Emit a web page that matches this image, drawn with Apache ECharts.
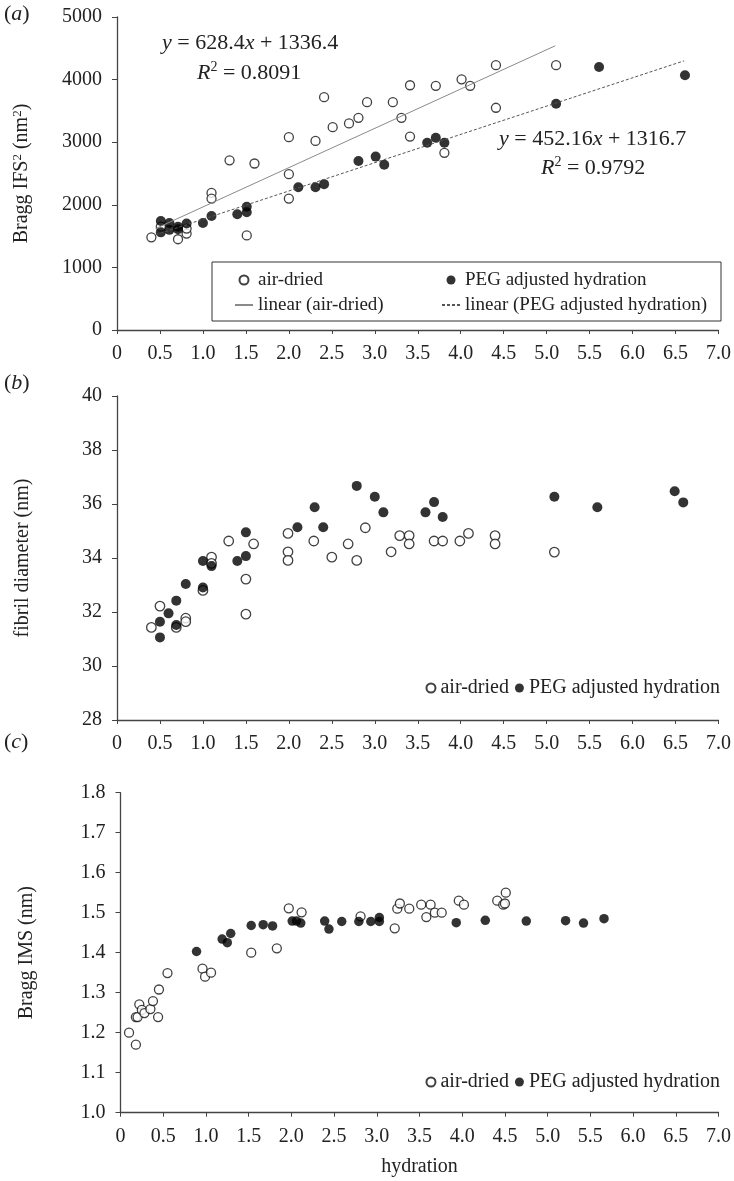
<!DOCTYPE html>
<html>
<head>
<meta charset="utf-8">
<title>hydration</title>
<script src="https://cdn.jsdelivr.net/npm/echarts@6/dist/echarts.min.js"></script>
<style>
  html, body { margin: 0; padding: 0; background: #fff; }
  #chart { width: 734px; height: 1181px; }
</style>
</head>
<body>
<div id="chart"></div>
<script>
// (a) Bragg IFS^2 vs hydration
const airA = [
  [0.40, 1480], [0.51, 1650], [0.71, 1450], [0.81, 1540], [0.81, 1620], [1.10, 2190], [1.10, 2100],
  [1.31, 2710], [1.51, 1510], [1.60, 2660], [2.0, 3080], [2.0, 2490], [2.0, 2100], [2.31, 3020],
  [2.41, 3720], [2.51, 3240], [2.70, 3300], [2.81, 3390], [2.91, 3640], [3.21, 3640], [3.31, 3390],
  [3.41, 3910], [3.41, 3090], [3.71, 3900], [3.81, 2830], [4.01, 4005], [4.11, 3900], [4.41, 4230],
  [4.41, 3550], [5.11, 4230]
];
const pegA = [
  [0.51, 1740], [0.51, 1560], [0.61, 1710], [0.61, 1600], [0.71, 1650], [0.71, 1610], [0.81, 1700],
  [1.0, 1710], [1.10, 1820], [1.40, 1850], [1.51, 1970], [1.51, 1880], [2.11, 2280], [2.31, 2280],
  [2.41, 2330], [2.81, 2700], [3.01, 2770], [3.11, 2640], [3.61, 2990], [3.71, 3070], [3.81, 2990],
  [5.11, 3615], [5.61, 4200], [6.61, 4070]
];
// trend line end points as drawn
const trendAir = [[0.45, 1620], [5.1, 4540]];
const trendPeg = [[0.45, 1520], [6.6, 4300]];

// (b) fibril diameter
const airB = [
  [0.40, 31.43], [0.50, 32.22], [0.69, 31.43], [0.80, 31.77], [0.80, 31.64], [1.0, 32.8], [1.10, 34.03],
  [1.10, 33.8], [1.30, 34.63], [1.50, 33.22], [1.50, 31.92], [1.59, 34.52], [1.99, 34.91], [1.99, 34.23],
  [1.99, 33.91], [2.29, 34.63], [2.50, 34.03], [2.69, 34.52], [2.79, 33.91], [2.89, 35.12], [3.19, 34.23],
  [3.29, 34.83], [3.40, 34.83], [3.40, 34.52], [3.69, 34.63], [3.79, 34.63], [3.99, 34.63], [4.09, 34.91],
  [4.40, 34.83], [4.40, 34.52], [5.09, 34.22]
];
const pegB = [
  [0.50, 31.64], [0.50, 31.06], [0.60, 31.95], [0.69, 32.42], [0.69, 31.52], [0.80, 33.04], [1.0, 32.91],
  [1.0, 33.89], [1.10, 33.7], [1.40, 33.89], [1.50, 34.95], [1.50, 34.07], [2.10, 35.14], [2.30, 35.88],
  [2.40, 35.14], [2.79, 36.67], [3.0, 36.27], [3.10, 35.69], [3.59, 35.69], [3.69, 36.07], [3.79, 35.52],
  [5.09, 36.27], [5.59, 35.88], [6.49, 36.47], [6.59, 36.06]
];

// (c) Bragg IMS
const airC = [
  [0.10, 1.20], [0.18, 1.17], [0.18, 1.239], [0.20, 1.239], [0.22, 1.271], [0.25, 1.257], [0.28, 1.249],
  [0.35, 1.259], [0.38, 1.279], [0.44, 1.239], [0.45, 1.308], [0.55, 1.349], [0.96, 1.36], [0.99, 1.34],
  [1.06, 1.35], [1.53, 1.40], [1.83, 1.411], [1.97, 1.511], [2.12, 1.501], [2.81, 1.491], [3.21, 1.461],
  [3.24, 1.510], [3.27, 1.523], [3.38, 1.510], [3.52, 1.52], [3.58, 1.489], [3.63, 1.52], [3.68, 1.50],
  [3.76, 1.50], [3.96, 1.53], [4.02, 1.52], [4.41, 1.53], [4.48, 1.52], [4.50, 1.523], [4.51, 1.55]
];
const pegC = [
  [0.89, 1.403], [1.19, 1.434], [1.25, 1.425], [1.29, 1.448], [1.53, 1.468], [1.67, 1.470], [1.78, 1.467],
  [2.01, 1.479], [2.06, 1.479], [2.11, 1.474], [2.39, 1.479], [2.44, 1.459], [2.59, 1.478], [2.79, 1.478],
  [2.93, 1.478], [3.03, 1.488], [3.03, 1.478], [3.93, 1.475], [4.27, 1.481], [4.75, 1.479], [5.21, 1.480],
  [5.42, 1.474], [5.66, 1.485]
];

const serif = "Liberation Serif";
const ink = "#222";
const axisColor = "#444";
const airLine = "#8a8a8a";
const pegLine = "#555";

function xAxis(gi, extra) {
  return Object.assign({
    type: "value",
    gridIndex: gi,
    min: 0,
    max: 7,
    interval: 0.5,
    axisLine: { show: true, onZero: false, lineStyle: { color: axisColor, width: 1.3 } },
    axisTick: { show: true, length: 4, lineStyle: { color: axisColor } },
    splitLine: { show: false },
    axisLabel: {
      fontFamily: serif, fontSize: 20, color: ink, margin: 14,
      formatter: function (v) { return v === 0 ? "0" : v.toFixed(1); },
    },
  }, extra || {});
}

function yAxis(gi, min, max, interval, digits, name, gap, extra) {
  return Object.assign({
    type: "value",
    gridIndex: gi,
    min: min,
    max: max,
    interval: interval,
    name: name,
    nameLocation: "middle",
    nameGap: gap,
    nameTextStyle: {
      fontFamily: serif, fontSize: 20, color: ink,
      rich: {
        t: { fontFamily: serif, fontSize: 20, color: ink },
        s: { fontFamily: serif, fontSize: 13, color: ink, verticalAlign: "top", lineHeight: 22 },
      },
    },
    axisLine: { show: true, lineStyle: { color: axisColor, width: 1.3 } },
    axisTick: { show: true, length: 5, lineStyle: { color: axisColor } },
    splitLine: { show: false },
    axisLabel: {
      fontFamily: serif, fontSize: 20, color: ink, margin: 15,
      formatter: function (v) { return digits ? v.toFixed(digits) : String(v); },
    },
  }, extra || {});
}

const openStyle = { color: "#fff", borderColor: "#111", borderWidth: 1.3 };
const fillStyle = { color: "#000" };

function scat(name, gi, data, style, size) {
  return {
    name: name, type: "scatter", xAxisIndex: gi, yAxisIndex: gi,
    data: data, symbol: "circle", symbolSize: size, itemStyle: style,
  };
}

const eqText = { fontFamily: serif, fontSize: 22, fill: ink };
const eqRich = {
  i: { fontFamily: serif, fontSize: 22, fontStyle: "italic", color: ink },
  s: { fontFamily: serif, fontSize: 14, color: ink, verticalAlign: "top", lineHeight: 26 },
  n: { fontFamily: serif, fontSize: 22, color: ink, lineHeight: 26 },
};
function label(x, y, text) {
  return {
    type: "text", left: x, top: y,
    style: Object.assign({ text: text, rich: eqRich }, eqText),
  };
}

const legendText = { fontFamily: serif, fontSize: 19, color: ink, lineHeight: 20 };
const hideSymbol = { opacity: 0 };

const chart = echarts.init(document.getElementById("chart"));
const option = {
  animation: false,
  backgroundColor: "#fff",
  grid: [
    { left: 117, top: 17, width: 602, height: 313 },
    { left: 117, top: 396, width: 602, height: 324 },
    { left: 120.5, top: 792.7, width: 598.5, height: 320 },
  ],
  xAxis: [
    xAxis(0),
    xAxis(1),
    xAxis(2, {
      name: "hydration", nameLocation: "middle", nameGap: 44,
      nameTextStyle: { fontFamily: serif, fontSize: 20, color: ink },
    }),
  ],
  yAxis: [
    yAxis(0, 0, 5000, 1000, 0, "{t|Bragg IFS}{s|2}{t| (nm}{s|2}{t|)}", 84),
    yAxis(1, 28, 40, 2, 0, "fibril diameter (nm)", 84),
    yAxis(2, 1.0, 1.8, 0.1, 1, "Bragg IMS (nm)", 84, {}),
  ],
  legend: [
    {
      orient: "vertical", left: 234, top: 270, itemWidth: 18, itemHeight: 9, itemGap: 5,
      selectedMode: false, padding: 0, textStyle: legendText,
      data: ["air-dried", { name: "linear (air-dried)", itemStyle: hideSymbol }],
    },
    {
      orient: "vertical", left: 441, top: 270, itemWidth: 18, itemHeight: 9, itemGap: 5,
      selectedMode: false, padding: 0, textStyle: legendText,
      data: ["PEG adjusted hydration", { name: "linear (PEG adjusted hydration)", itemStyle: hideSymbol }],
    },
    {
      orient: "horizontal", right: 14, top: 678, itemWidth: 9, itemHeight: 9, itemGap: 6,
      selectedMode: false, padding: 0,
      textStyle: { fontFamily: serif, fontSize: 20, color: ink },
      data: ["air-dried", "PEG adjusted hydration"],
    },
    {
      orient: "horizontal", right: 14, top: 1072, itemWidth: 9, itemHeight: 9, itemGap: 6,
      selectedMode: false, padding: 0,
      textStyle: { fontFamily: serif, fontSize: 20, color: ink },
      data: ["air-dried", "PEG adjusted hydration"],
    },
  ],
  graphic: [
    {
      type: "rect", shape: { x: 212, y: 262, width: 509, height: 59 },
      style: { fill: "none", stroke: "#333", lineWidth: 1 }, z: 1,
    },
    label(162, 32, "{i|y}{n| = 628.4}{i|x}{n| + 1336.4}"),
    label(197, 60, "{i|R}{s|2}{n| = 0.8091}"),
    label(499, 128, "{i|y}{n| = 452.16}{i|x}{n| + 1316.7}"),
    label(541, 155, "{i|R}{s|2}{n| = 0.9792}"),
    label(4, 3, "{n|(}{i|a}{n|)}"),
    label(4, 372, "{n|(}{i|b}{n|)}"),
    label(4, 731, "{n|(}{i|c}{n|)}"),
  ],
  series: [
    {
      name: "linear (air-dried)", type: "line", xAxisIndex: 0, yAxisIndex: 0,
      data: trendAir, symbol: "none", itemStyle: { color: airLine },
      lineStyle: { color: airLine, width: 1 },
    },
    {
      name: "linear (PEG adjusted hydration)", type: "line", xAxisIndex: 0, yAxisIndex: 0,
      data: trendPeg, symbol: "none", itemStyle: { color: pegLine },
      lineStyle: { color: pegLine, width: 1, type: [3, 2] },
    },
    scat("air-dried", 0, airA, openStyle, 9),
    scat("PEG adjusted hydration", 0, pegA, fillStyle, 10),
    scat("air-dried", 1, airB, openStyle, 9.5),
    scat("PEG adjusted hydration", 1, pegB, fillStyle, 10),
    scat("air-dried", 2, airC, openStyle, 9),
    scat("PEG adjusted hydration", 2, pegC, fillStyle, 9.5),
  ],
};
chart.setOption(option);
</script>
</body>
</html>
